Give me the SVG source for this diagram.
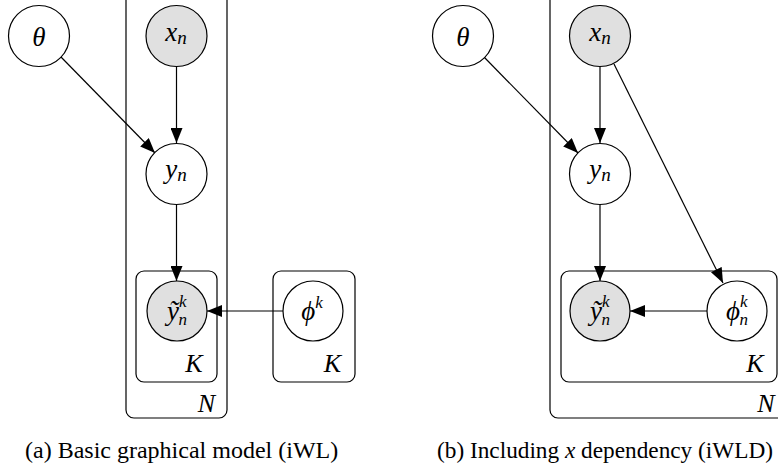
<svg xmlns="http://www.w3.org/2000/svg" width="778" height="467" viewBox="0 0 778 467">
<style>
.n{fill:#fff;stroke:#000;stroke-width:1.2}
.o{fill:#e0e0e0;stroke:#000;stroke-width:1.2}
.p{fill:none;stroke:#000;stroke-width:1.2}
.e{fill:none;stroke:#000;stroke-width:1.2}
.m{font-family:"Liberation Serif","DejaVu Serif",serif;font-style:italic;font-size:27px;text-anchor:middle}
.k{font-family:"Liberation Serif","DejaVu Serif",serif;font-style:italic;font-size:26px;text-anchor:middle}
.s{font-size:19px}
.t{font-size:17px}
.c{font-family:"Liberation Serif","DejaVu Serif",serif;font-size:24px}
</style>
<defs>
<marker id="a" viewBox="0 0 15 12" refX="15" refY="6" markerWidth="15" markerHeight="12" markerUnits="userSpaceOnUse" orient="auto">
<path d="M0,0 L15,6 L0,12 z" fill="#000"/>
</marker>
</defs>
<g id="plates">
<rect id="plateN-a" class="p" x="126" y="-8" width="101" height="426" rx="8"/>
<text class="k" x="206.5" y="412">N</text>
<rect id="plateK-a" class="p" x="136" y="271" width="81" height="111" rx="8"/>
<text class="k" x="194" y="372">K</text>
<rect id="plateK2-a" class="p" x="273" y="271" width="82" height="111" rx="8"/>
<text class="k" x="332.5" y="372">K</text>
<rect id="plateN-b" class="p" x="550" y="-8" width="240" height="426" rx="8"/>
<text class="k" x="766" y="412">N</text>
<rect id="plateK-b" class="p" x="561" y="271" width="216" height="111" rx="8"/>
<text class="k" x="755" y="372">K</text>
</g>
<g id="connectors">
<line class="e" x1="61" y1="57" x2="155" y2="153" marker-end="url(#a)"/>
<line class="e" x1="176.5" y1="66" x2="176.5" y2="143" marker-end="url(#a)"/>
<line class="e" x1="176.5" y1="204" x2="176.5" y2="281" marker-end="url(#a)"/>
<line class="e" x1="283" y1="311" x2="207" y2="311" marker-end="url(#a)"/>
<line class="e" x1="484" y1="57" x2="578" y2="153" marker-end="url(#a)"/>
<line class="e" x1="600" y1="66" x2="600" y2="143" marker-end="url(#a)"/>
<line class="e" x1="600" y1="204" x2="600" y2="281" marker-end="url(#a)"/>
<line class="e" x1="614" y1="64" x2="723" y2="283" marker-end="url(#a)"/>
<line class="e" x1="707" y1="311" x2="630" y2="311" marker-end="url(#a)"/>
</g>
<g id="theta-a"><circle class="n" cx="39" cy="36" r="30.5"/><text class="m" x="39" y="46">θ</text></g>
<g id="x-a"><circle class="o" cx="176.5" cy="36" r="30.5"/><text class="m" x="176" y="41">x<tspan class="s" dy="3">n</tspan></text></g>
<g id="y-a"><circle class="n" cx="176.5" cy="174" r="30.5"/><text class="m" x="176" y="178">y<tspan class="s" dy="3">n</tspan></text></g>
<g id="yt-a"><circle class="o" cx="177" cy="311" r="30"/><text class="m" x="177" y="320">ỹ<tspan class="t" dy="-13">k</tspan><tspan class="t" dx="-8" dy="18">n</tspan></text></g>
<g id="phi-a"><circle class="n" cx="313" cy="311" r="30"/><text class="m" x="312" y="320">ϕ<tspan class="t" dy="-12">k</tspan></text></g>
<g id="theta-b"><circle class="n" cx="463" cy="36" r="30.5"/><text class="m" x="463" y="46">θ</text></g>
<g id="x-b"><circle class="o" cx="600" cy="36" r="30.5"/><text class="m" x="600" y="41">x<tspan class="s" dy="3">n</tspan></text></g>
<g id="y-b"><circle class="n" cx="600" cy="174" r="30.5"/><text class="m" x="600" y="178">y<tspan class="s" dy="3">n</tspan></text></g>
<g id="yt-b"><circle class="o" cx="600" cy="311" r="30"/><text class="m" x="600" y="320">ỹ<tspan class="t" dy="-13">k</tspan><tspan class="t" dx="-8" dy="18">n</tspan></text></g>
<g id="phi-b"><circle class="n" cx="737" cy="311" r="30"/><text class="m" x="737" y="320">ϕ<tspan class="t" dy="-13">k</tspan><tspan class="t" dx="-8" dy="18">n</tspan></text></g>
<g id="captions">
<text class="c" x="25" y="458">(a) Basic graphical model (iWL)</text>
<text class="c" x="437" y="458" textLength="336" lengthAdjust="spacingAndGlyphs">(b) Including <tspan font-style="italic">x</tspan> dependency (iWLD)</text>
</g>
</svg>
